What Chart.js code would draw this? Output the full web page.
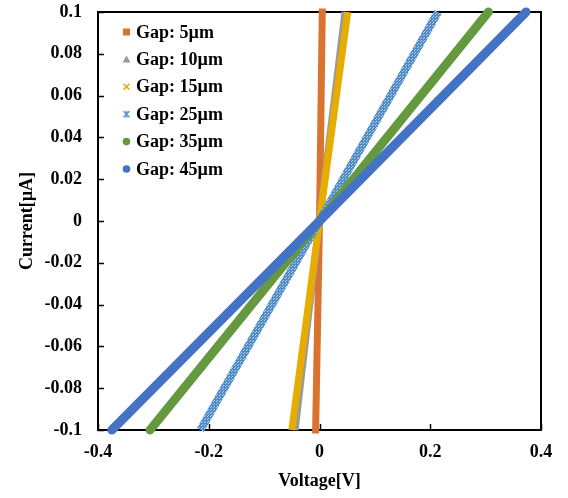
<!DOCTYPE html>
<html lang="en">
<head>
<meta charset="UTF-8">
<title>Current vs Voltage by Gap</title>
<script src="https://cdn.jsdelivr.net/npm/chart.js"></script>
<style>
  html, body { margin: 0; padding: 0; background: #fff; }
  .chart-container { width: 568px; height: 498px; }
</style>
</head>
<body>
<div class="chart-container"><canvas id="ivChart"></canvas></div>
<script>
  // Values (voltage at I = -0.1, 0, 0.1 uA)
  const gapLabels = ['Gap: 5µm', 'Gap: 10µm', 'Gap: 15µm', 'Gap: 25µm', 'Gap: 35µm', 'Gap: 45µm'];
  const currentPoints = [-0.1, 0, 0.1];
  const voltageGap5 = [-0.007, 0, 0.005];
  const voltageGap10 = [-0.044, 0, 0.046];
  const voltageGap15 = [-0.05, 0, 0.051];
  const voltageGap25 = [-0.215, 0, 0.214];
  const voltageGap35 = [-0.306, 0, 0.305];
  const voltageGap45 = [-0.375, 0, 0.373];
  const seriesVoltages = [voltageGap5, voltageGap10, voltageGap15, voltageGap25, voltageGap35, voltageGap45];

  const xTickValues = [-0.4, -0.2, 0, 0.2, 0.4];
  const xTickLabels = ['-0.4', '-0.2', '0', '0.2', '0.4'];
  const yTickValues = [-0.1, -0.08, -0.06, -0.04, -0.02, 0, 0.02, 0.04, 0.06, 0.08, 0.1];
  const yTickLabels = ['-0.1', '-0.08', '-0.06', '-0.04', '-0.02', '0', '0.02', '0.04', '0.06', '0.08', '0.1'];

  // speckled texture for the 25um series (x markers in Excel)
  const speckle = document.createElement('canvas');
  speckle.width = 3; speckle.height = 3;
  const sctx = speckle.getContext('2d');
  sctx.fillStyle = '#4F8CC7';
  sctx.fillRect(0, 0, 3, 3);
  sctx.fillStyle = '#B3CFEA';
  sctx.fillRect(1, 1, 1, 1);
  sctx.fillRect(0, 2, 1, 1);
  const speckleFill = sctx.createPattern(speckle, 'repeat');

  const lineColors = ['#DA7330', '#9A9A9A', '#E6AC00', speckleFill, '#64993F', '#4472C4'];
  const markerColors = ['#DA7330', '#9A9A9A', '#E6AC00', '#5B9BD5', '#64993F', '#4472C4'];
  const markerShapes = ['square', 'triangle', 'cross', 'star', 'circle', 'circle'];
  const lineWidths = [7, 7, 7, 8, 9, 9];
  const lineCaps = ['square', 'butt', 'butt', 'butt', 'round', 'round'];

  const font = { family: "'Liberation Serif', 'Times New Roman', serif", size: 18, weight: 'bold' };

  // plot frame with inward tick marks
  const framePlugin = {
    id: 'frame',
    beforeDatasetsDraw(chart) {
      const { ctx, chartArea: a, scales } = chart;
      ctx.save();
      ctx.strokeStyle = '#000';
      ctx.lineWidth = 1.5;
      xTickValues.forEach(v => {
        const px = Math.round(scales.x.getPixelForValue(v)) + 0.5;
        ctx.beginPath(); ctx.moveTo(px, a.bottom); ctx.lineTo(px, a.bottom - 6); ctx.stroke();
      });
      yTickValues.forEach(v => {
        const py = Math.round(scales.y.getPixelForValue(v)) + 0.5;
        ctx.beginPath(); ctx.moveTo(a.left, py); ctx.lineTo(a.left + 6, py); ctx.stroke();
      });
      ctx.lineWidth = 2;
      ctx.strokeRect(a.left, a.top, a.right - a.left, a.bottom - a.top);
      ctx.restore();
    }
  };

  function drawMarker(ctx, shape, x, y, color) {
    ctx.fillStyle = color;
    ctx.strokeStyle = color;
    ctx.lineWidth = 1.6;
    ctx.beginPath();
    if (shape === 'square') {
      ctx.fillRect(x - 3.5, y - 3.5, 7, 7);
    } else if (shape === 'triangle') {
      ctx.moveTo(x, y - 4); ctx.lineTo(x + 4, y + 3); ctx.lineTo(x - 4, y + 3); ctx.closePath(); ctx.fill();
    } else if (shape === 'cross') {
      ctx.moveTo(x - 3, y - 3); ctx.lineTo(x + 3, y + 3);
      ctx.moveTo(x + 3, y - 3); ctx.lineTo(x - 3, y + 3); ctx.stroke();
    } else if (shape === 'star') {
      ctx.moveTo(x - 3, y - 3); ctx.lineTo(x + 3, y + 3);
      ctx.moveTo(x + 3, y - 3); ctx.lineTo(x - 3, y + 3);
      ctx.moveTo(x, y - 3.5); ctx.lineTo(x, y + 3.5); ctx.stroke();
    } else {
      ctx.arc(x, y, 3.8, 0, Math.PI * 2); ctx.fill();
    }
  }

  const legendPlugin = {
    id: 'insideLegend',
    afterDraw(chart) {
      const { ctx, chartArea: a } = chart;
      ctx.save();
      ctx.font = `${font.weight} ${font.size}px ${font.family}`;
      ctx.textBaseline = 'middle';
      gapLabels.forEach((label, i) => {
        const y = a.top + 20 + i * 27.4;
        drawMarker(ctx, markerShapes[i], a.left + 28.5, y, markerColors[i]);
        ctx.fillStyle = '#000';
        ctx.fillText(label, a.left + 38, y + 1);
      });
      ctx.restore();
    }
  };

  const datasets = gapLabels.map((label, i) => ({
    label: label,
    data: currentPoints.map((c, k) => ({ x: seriesVoltages[i][k], y: c })),
    showLine: true,
    borderColor: lineColors[i],
    backgroundColor: markerColors[i],
    borderWidth: lineWidths[i],
    borderCapStyle: lineCaps[i],
    pointRadius: 0,
    clip: false,
    order: gapLabels.length - i
  }));

  new Chart(document.getElementById('ivChart'), {
    type: 'scatter',
    data: { datasets: datasets },
    plugins: [framePlugin, legendPlugin],
    options: {
      responsive: true,
      maintainAspectRatio: false,
      animation: false,
      layout: { padding: { top: 12, right: 27, bottom: 0, left: 0 } },
      plugins: { legend: { display: false }, tooltip: { enabled: false } },
      scales: {
        x: {
          type: 'linear',
          min: -0.4,
          max: 0.4,
          afterBuildTicks: s => { s.ticks = xTickValues.map(v => ({ value: v })); },
          afterFit: s => { s.height = 68; s.paddingLeft = 0; s.paddingRight = 0; },
          grid: { display: false, drawTicks: false, tickLength: 0 },
          border: { display: false },
          ticks: { color: '#000', font: font, padding: 12, maxRotation: 0, callback: (v, i) => xTickLabels[i] },
          title: { display: true, text: 'Voltage[V]', color: '#000', font: font, padding: { top: 0, bottom: 6 } }
        },
        y: {
          type: 'linear',
          min: -0.1,
          max: 0.1,
          afterBuildTicks: s => { s.ticks = yTickValues.map(v => ({ value: v })); },
          afterFit: s => { s.width = 98; s.paddingTop = 0; s.paddingBottom = 0; },
          grid: { display: false, drawTicks: false, tickLength: 0 },
          border: { display: false },
          ticks: { color: '#000', font: font, padding: 16, callback: (v, i) => yTickLabels[i] },
          title: { display: true, text: 'Current[µA]', color: '#000', font: font, padding: { top: 17, bottom: 0 } }
        }
      }
    }
  });
</script>
</body>
</html>
